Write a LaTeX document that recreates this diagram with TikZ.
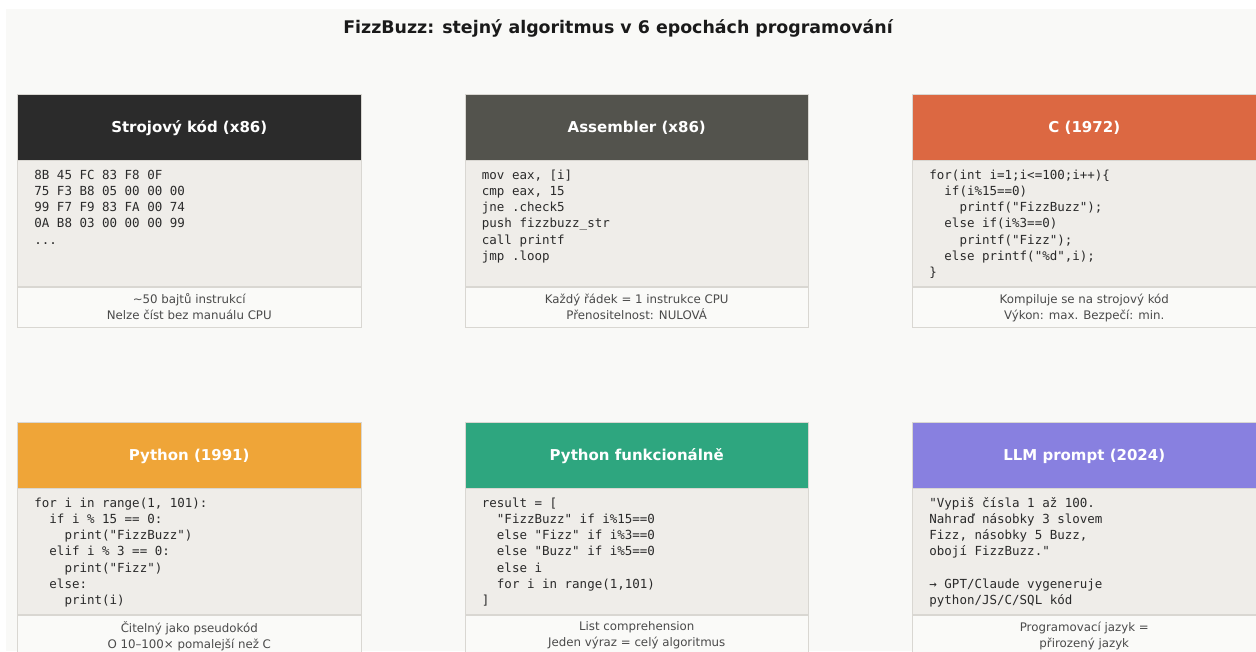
\documentclass[tikz,border=0pt]{standalone}
\usepackage{fontspec}
\setmainfont{DejaVu Sans}
\newfontfamily\codefont{DejaVu Sans Mono}
\usetikzlibrary{calc}
\definecolor{bgcol}{HTML}{F9F9F7}
\definecolor{codebg}{HTML}{EFEDE9}
\definecolor{footbg}{HTML}{FAFAF8}
\definecolor{bordercol}{HTML}{D9D7D2}
\definecolor{codecol}{HTML}{2A2A2A}
\definecolor{footcol}{HTML}{4A4A4A}
\definecolor{titlecol}{HTML}{1A1A1A}
\definecolor{hA}{HTML}{2B2B2B}
\definecolor{hB}{HTML}{53534D}
\definecolor{hC}{HTML}{DC6842}
\definecolor{hD}{HTML}{EFA538}
\definecolor{hE}{HTML}{2EA67F}
\definecolor{hF}{HTML}{8880E0}
\begin{document}
\begin{tikzpicture}[x=1pt,y=-1pt,
  hdr/.style={rectangle, minimum width=343.5pt, minimum height=66pt, inner sep=0pt,
    text height=11pt, text depth=0pt, text=white, draw=bordercol, line width=0.6pt,
    font=\bfseries\fontsize{15}{18}\selectfont},
  codearea/.style={rectangle, minimum width=343.5pt, minimum height=126pt, inner sep=0pt,
    fill=codebg, draw=bordercol, line width=0.6pt},
  footarea/.style={rectangle, minimum width=343.5pt, minimum height=40pt, inner sep=0pt,
    fill=footbg, draw=bordercol, line width=0.6pt},
  codetxt/.style={anchor=north west, inner sep=0pt, align=left, text=codecol,
    font=\codefont\fontsize{12.5}{16.3}\selectfont},
  foottxt/.style={anchor=north, inner sep=0pt, align=center, text=footcol,
    font=\fontsize{11.8}{16}\selectfont},
  titletxt/.style={anchor=base, inner sep=0pt, text=titlecol,
    font=\bfseries\fontsize{17.4}{20}\selectfont}
]
\useasboundingbox (0,0) rectangle (1256,651);
\fill[white] (0,0) rectangle (1256,651);
\fill[bgcol] (6,9) rectangle (1256,651);

\node[titletxt] (title) at (618,33) {FizzBuzz: stejný algoritmus v 6 epochách programování};

% ---------- Row 1 ----------
\node[hdr, fill=hA] (h1) at (189.25,127) {Strojový kód (x86)};
\node[codearea, anchor=north] (c1) at (h1.south) {};
\node[footarea, anchor=north] (f1) at (c1.south) {};
\node[codetxt] (t1) at ($(c1.north west)+(17,8.5)$) {\rule{0pt}{10pt}8B 45 FC 83 F8 0F\\
75 F3 B8 05 00 00 00\\
99 F7 F9 83 FA 00 74\\
0A B8 03 00 00 00 99\\
...};
\node[foottxt] (n1) at ($(f1.north)+(0,6.5)$) {\rule{0pt}{9pt}\textasciitilde 50 bajtů instrukcí\\Nelze číst bez manuálu CPU};

\node[hdr, fill=hB] (h2) at (636.75,127) {Assembler (x86)};
\node[codearea, anchor=north] (c2) at (h2.south) {};
\node[footarea, anchor=north] (f2) at (c2.south) {};
\node[codetxt] (t2) at ($(c2.north west)+(17,8.5)$) {\rule{0pt}{10pt}mov eax, [i]\\
cmp eax, 15\\
jne .check5\\
push fizzbuzz\_str\\
call printf\\
jmp .loop};
\node[foottxt] (n2) at ($(f2.north)+(0,6.5)$) {\rule{0pt}{9pt}Každý řádek = 1 instrukce CPU\\Přenositelnost: NULOVÁ};

\node[hdr, fill=hC] (h3) at (1084.25,127) {C (1972)};
\node[codearea, anchor=north] (c3) at (h3.south) {};
\node[footarea, anchor=north] (f3) at (c3.south) {};
\node[codetxt] (t3) at ($(c3.north west)+(17,8.5)$) {\rule{0pt}{10pt}for(int i=1;i<=100;i++)\{\\
\phantom{xx}if(i\%15==0)\\
\phantom{xxxx}printf("FizzBuzz");\\
\phantom{xx}else if(i\%3==0)\\
\phantom{xxxx}printf("Fizz");\\
\phantom{xx}else printf("\%d",i);\\
\}};
\node[foottxt] (n3) at ($(f3.north)+(0,6.5)$) {\rule{0pt}{9pt}Kompiluje se na strojový kód\\Výkon: max. Bezpečí: min.};

% ---------- Row 2 ----------
\node[hdr, fill=hD] (h4) at (189.25,455) {Python (1991)};
\node[codearea, anchor=north] (c4) at (h4.south) {};
\node[footarea, anchor=north] (f4) at (c4.south) {};
\node[codetxt] (t4) at ($(c4.north west)+(17,8.5)$) {\rule{0pt}{10pt}for i in range(1, 101):\\
\phantom{xx}if i \% 15 == 0:\\
\phantom{xxxx}print("FizzBuzz")\\
\phantom{xx}elif i \% 3 == 0:\\
\phantom{xxxx}print("Fizz")\\
\phantom{xx}else:\\
\phantom{xxxx}print(i)};
\node[foottxt] (n4) at ($(f4.north)+(0,6.5)$) {\rule{0pt}{9pt}Čitelný jako pseudokód\\O 10–100× pomalejší než C};

\node[hdr, fill=hE] (h5) at (636.75,455) {Python funkcionálně};
\node[codearea, anchor=north] (c5) at (h5.south) {};
\node[footarea, anchor=north] (f5) at (c5.south) {};
\node[codetxt] (t5) at ($(c5.north west)+(17,8.5)$) {\rule{0pt}{10pt}result = [\\
\phantom{xx}"FizzBuzz" if i\%15==0\\
\phantom{xx}else "Fizz" if i\%3==0\\
\phantom{xx}else "Buzz" if i\%5==0\\
\phantom{xx}else i\\
\phantom{xx}for i in range(1,101)\\
]};
\node[foottxt] (n5) at ($(f5.north)+(0,6.5)$) {\rule{0pt}{9pt}List comprehension\\Jeden výraz = celý algoritmus};

\node[hdr, fill=hF] (h6) at (1084.25,455) {LLM prompt (2024)};
\node[codearea, anchor=north] (c6) at (h6.south) {};
\node[footarea, anchor=north] (f6) at (c6.south) {};
\node[codetxt] (t6) at ($(c6.north west)+(17,8.5)$) {\rule{0pt}{10pt}"Vypiš čísla 1 až 100.\\
Nahraď násobky 3 slovem\\
Fizz, násobky 5 Buzz,\\
obojí FizzBuzz."\\
\mbox{}\\
→ GPT/Claude vygeneruje\\
python/JS/C/SQL kód};
\node[foottxt] (n6) at ($(f6.north)+(0,6.5)$) {\rule{0pt}{9pt}Programovací jazyk =\\přirozený jazyk};
\end{tikzpicture}
\end{document}
